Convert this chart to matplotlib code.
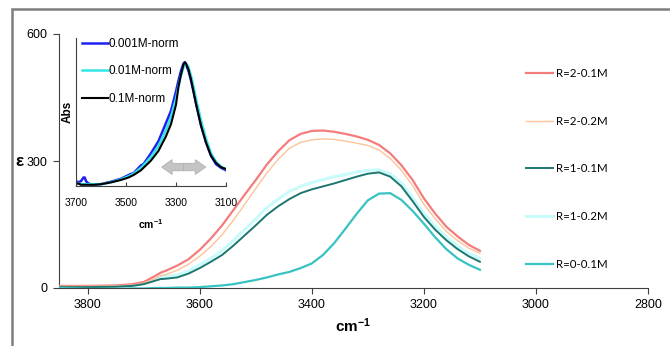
import numpy as np
import matplotlib
matplotlib.use("Agg")
import matplotlib.pyplot as plt
from matplotlib.patches import Rectangle, FancyArrow

plt.rcParams['font.family'] = ['Liberation Sans', 'DejaVu Sans']
plt.rcParams['mathtext.fontset'] = 'custom'
plt.rcParams['mathtext.rm'] = 'Liberation Sans'
plt.rcParams['mathtext.bf'] = 'Liberation Sans:bold'

# main spectra (epsilon vs wavenumber)
wn = [3850, 3800, 3750, 3720, 3700, 3680, 3670, 3660, 3640, 3620, 3600, 3580,
      3560, 3540, 3520, 3500, 3480, 3460, 3440, 3420, 3400, 3380, 3360, 3340,
      3320, 3300, 3280, 3260, 3240, 3220, 3200, 3180, 3160, 3140, 3120, 3100]
r2_01 = [5, 5, 6, 9, 14, 28, 36, 41, 53, 68, 90, 117, 148, 184, 220, 255, 292,
         323, 349, 364, 371, 372, 369, 364, 358, 350, 338, 318, 290, 255, 212,
         176, 145, 122, 102, 88]
r2_02 = [4, 4, 5, 7, 11, 22, 29, 32, 42, 56, 75, 98, 126, 160, 197, 235, 272,
         304, 330, 344, 350, 352, 351, 347, 342, 337, 326, 306, 278, 242, 198,
         164, 134, 112, 94, 82]
r1_01 = [2, 2, 3, 5, 9, 17, 21, 22, 25, 34, 47, 62, 78, 100, 124, 148, 173,
         193, 210, 224, 233, 240, 247, 255, 263, 270, 273, 263, 240, 205, 168,
         138, 113, 92, 75, 62]
r1_02 = [3, 3, 4, 6, 11, 20, 25, 27, 31, 40, 55, 70, 88, 112, 138, 163, 190,
         210, 228, 240, 249, 256, 263, 268, 274, 278, 279, 270, 248, 213, 176,
         146, 120, 99, 82, 70]
r0_01 = [0, -2, -2, -1, -1, 0, 0, 0, 1, 1, 2, 4, 6, 9, 14, 19, 25, 32, 38, 47,
         58, 78, 106, 140, 175, 207, 223, 224, 208, 182, 152, 120, 92, 70, 55, 43]

# inset: normalized absorbance
wn_in = [3700, 3690, 3680, 3670, 3665, 3660, 3650, 3630, 3600, 3560, 3520,
         3490, 3480, 3470, 3440, 3430, 3400, 3370, 3340, 3320, 3300, 3290,
         3280, 3270, 3265, 3260, 3250, 3240, 3230, 3220, 3200, 3180, 3160,
         3140, 3120, 3100]
n_0001 = [0.02, 0.01, 0.02, 0.05, 0.05, 0.02, 0.0, -0.01, -0.005, 0.015, 0.04,
          0.07, 0.08, 0.085, 0.15, 0.16, 0.25, 0.35, 0.50, 0.60, 0.76, 0.85,
          0.93, 0.99, 1.0, 0.98, 0.93, 0.85, 0.76, 0.66, 0.48, 0.34, 0.23,
          0.16, 0.13, 0.11]
n_001 = [0.0, 0.0, -0.005, -0.005, -0.005, -0.005, -0.005, -0.005, -0.005,
         0.01, 0.035, 0.06, 0.07, 0.08, 0.13, 0.15, 0.22, 0.31, 0.44, 0.55,
         0.70, 0.80, 0.89, 0.96, 0.98, 0.99, 0.96, 0.89, 0.80, 0.70, 0.52,
         0.37, 0.25, 0.18, 0.14, 0.12]
n_01 = [0.0, 0.0, -0.01, -0.01, -0.01, -0.01, -0.01, -0.01, -0.005, 0.01,
        0.03, 0.05, 0.06, 0.07, 0.11, 0.13, 0.19, 0.27, 0.39, 0.49, 0.65,
        0.80, 0.90, 0.98, 1.0, 0.99, 0.94, 0.86, 0.76, 0.66, 0.48, 0.34, 0.23,
        0.17, 0.135, 0.12]

W, H = 670, 346
fig = plt.figure(figsize=(W / 100, H / 100), dpi=100)

# outer frame of the picture
fig.patches.append(Rectangle((12 / W, -0.2), 1.2, 1.2 - 9 / H,
                             transform=fig.transFigure, fill=False,
                             ec='#7f7f7f', lw=1.8))

ax = fig.add_axes([58.5 / W, (H - 288) / H, (648 - 58.5) / W, (288 - 34) / H])
ax.plot(wn, r2_01, color='#f47c7c', lw=1.6, label='R=2-0.1M', zorder=3)
ax.plot(wn, r2_02, color='#fbc49a', lw=1.0, label='R=2-0.2M', zorder=3)
ax.plot(wn, r1_02, color='#c9fbfb', lw=2.2, label='R=1-0.2M', zorder=2)
ax.plot(wn, r1_01, color='#1d7771', lw=1.4, label='R=1-0.1M', zorder=3)
ax.plot(wn, r0_01, color='#38c2c2', lw=1.6, label='R=0-0.1M', zorder=3)

ax.set_xlim(3852, 2800)
ax.set_ylim(0, 600)
ax.set_xticks(np.arange(3800, 2799, -200))
ax.set_yticks([0, 300, 600])
for s in ['top', 'right']:
    ax.spines[s].set_visible(False)
for s in ['left', 'bottom']:
    ax.spines[s].set_color('#404040')
ax.tick_params(direction='out', length=4, labelsize=9, color='#404040', pad=4)
ax.set_xlabel(r'$\mathbf{cm^{-1}}$', fontsize=11, labelpad=4)
fig.text(20 / W, (H - 161) / H, 'ε', fontsize=12.5, fontweight='bold',
         ha='center', va='center')

h, lab = ax.get_legend_handles_labels()
order = ['R=2-0.1M', 'R=2-0.2M', 'R=1-0.1M', 'R=1-0.2M', 'R=0-0.1M']
hh = [h[lab.index(o)] for o in order]
fig.legend(hh, order, loc='upper left', bbox_to_anchor=(526 / W, 1 - 68 / H),
           frameon=False, labelspacing=3.18, handlelength=2.3,
           handletextpad=0.3, borderpad=0, borderaxespad=0,
           prop={'family': 'Lato', 'size': 8.3})

# inset
ins = fig.add_axes([76 / W, (H - 186) / H, 150 / W, 148 / H])
ins.plot(wn_in, n_0001, color='#2020f0', lw=1.8, label='0.001M-norm')
ins.plot(wn_in, n_001, color='#33e6e6', lw=1.8, label='0.01M-norm')
ins.plot(wn_in, n_01, color='black', lw=1.5, label='0.1M-norm')
ins.set_xlim(3700, 3100)
ins.set_ylim(-0.02, 1.2)
ins.set_xticks([3700, 3500, 3300, 3100])
ins.set_yticks([])
ins.patch.set_alpha(0)
for s in ['top', 'right']:
    ins.spines[s].set_visible(False)
for s in ['left', 'bottom']:
    ins.spines[s].set_color('#404040')
ins.tick_params(direction='in', length=3, labelsize=7.5, color='#404040', pad=9)
ins.set_xlabel(r'$\mathbf{cm^{-1}}$', fontsize=7.5, labelpad=6)
ins.set_ylabel('Abs', fontsize=8.5, fontweight='bold', labelpad=2)
ins.legend(loc='upper left', bbox_to_anchor=(0.04, 1.0), frameon=False,
           fontsize=8.5, labelspacing=1.3, handlelength=2.2,
           handletextpad=0.05, borderpad=0, borderaxespad=0)

# grey double arrow
for x0, dx in [(0.718, -0.147), (0.718, 0.147)]:
    ins.add_patch(FancyArrow(x0, 0.128, dx, 0, width=0.05, head_width=0.1,
                             head_length=0.07, length_includes_head=True,
                             transform=ins.transAxes, fc='#c4c4c4',
                             ec='#b0b0b0', lw=0.6))

fig.savefig('out.png', dpi=100)
